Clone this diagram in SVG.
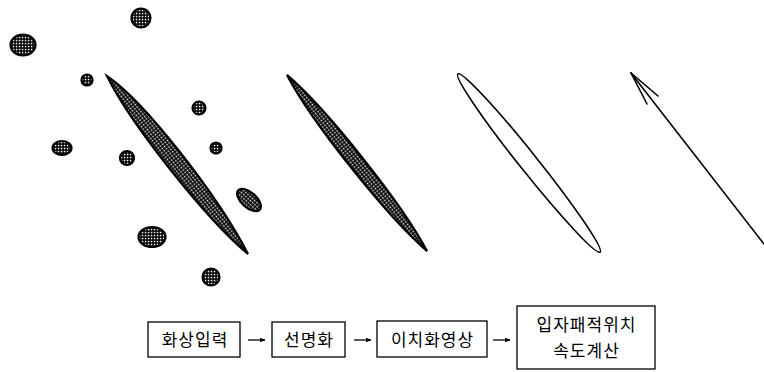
<svg xmlns="http://www.w3.org/2000/svg" width="764" height="372" viewBox="0 0 764 372">
<defs>
<pattern id="dots" width="3" height="3" patternUnits="userSpaceOnUse">
<rect width="3" height="3" fill="#000"/>
<rect x="0.8" y="0.8" width="1.5" height="1.5" fill="#fff"/>
</pattern>
<marker id="ah" viewBox="0 0 10 10" refX="9" refY="5" markerWidth="6" markerHeight="6" orient="auto" markerUnits="userSpaceOnUse">
<path d="M0,1 L10,5 L0,9 Z" fill="#000"/>
</marker>
</defs>
<style>
.blob{fill:url(#dots);stroke:#000;stroke-width:2.2}
.box{fill:#fff;stroke:#000;stroke-width:1.3}
.lbl{font-family:"Noto Sans CJK KR","Noto Sans CJK SC",sans-serif;font-size:17px;letter-spacing:1px;fill:#000;text-anchor:middle}
.conn{stroke:#000;stroke-width:1.3;fill:none;marker-end:url(#ah)}
.thin{stroke:#000;stroke-width:1.6;fill:none;stroke-linecap:round}
</style>

<g id="raw-image">
<ellipse class="blob" cx="141" cy="18" rx="9.5" ry="9.5"/>
<ellipse class="blob" cx="23" cy="45" rx="12.5" ry="10.5"/>
<ellipse class="blob" cx="87" cy="80" rx="5.5" ry="5.5"/>
<ellipse class="blob" cx="199" cy="108" rx="6.5" ry="6.5"/>
<ellipse class="blob" cx="62" cy="148" rx="9.5" ry="7"/>
<ellipse class="blob" cx="127" cy="158" rx="7" ry="7"/>
<ellipse class="blob" cx="216" cy="148" rx="5.5" ry="5.5"/>
<ellipse class="blob" cx="249" cy="200" rx="14.5" ry="7.5" transform="rotate(42 249 200)"/>
<ellipse class="blob" cx="152" cy="237" rx="13.5" ry="10"/>
<ellipse class="blob" cx="211" cy="277" rx="8.5" ry="8.5"/>
<path class="blob" transform="translate(177.5,165) rotate(51.6)" d="M-113.5,0 C-70,-14 50,-12.5 113.5,0 C60,11 -60,11.5 -113.5,0 Z"/>
</g>

<g id="enhanced-image">
<path class="blob" transform="translate(357,163) rotate(51.5)" d="M-112.5,0 C-60,-10 60,-10 112.5,0 C60,10 -60,10 -112.5,0 Z"/>
</g>

<g id="binary-image">
<ellipse cx="529" cy="163" rx="114" ry="9" transform="rotate(51.4 529 163)" fill="none" stroke="#000" stroke-width="1.6"/>
</g>

<g id="velocity-vector">
<line class="thin" x1="764" y1="244" x2="631" y2="73"/>
<line class="thin" x1="631" y1="73" x2="647" y2="104"/>
<line class="thin" x1="631" y1="73" x2="658" y2="96"/>
</g>

<g id="node-input">
<rect class="box" x="148" y="322" width="92" height="35"/>
<text class="lbl" x="195" y="346">화상입력</text>
</g>
<g id="node-enhance">
<rect class="box" x="272" y="322" width="73" height="35"/>
<text class="lbl" x="309" y="346">선명화</text>
</g>
<g id="node-binary">
<rect class="box" x="377" y="321" width="110" height="36"/>
<text class="lbl" x="432.5" y="346">이치화영상</text>
</g>
<g id="node-compute">
<rect class="box" x="517" y="306" width="138" height="63"/>
<text class="lbl" x="586.5" y="331">입자패적위치</text>
<text class="lbl" x="586.5" y="357">속도계산</text>
</g>

<g id="connectors">
<line class="conn" x1="248" y1="340" x2="265" y2="340"/>
<line class="conn" x1="354" y1="340" x2="371" y2="340"/>
<line class="conn" x1="493" y1="340" x2="510" y2="340"/>
</g>
</svg>
